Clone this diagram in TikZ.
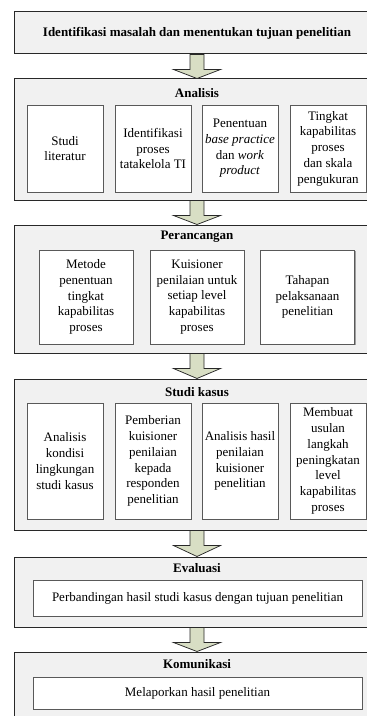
\documentclass[tikz,border=0pt]{standalone}
\usepackage{fontspec}
\setmainfont{Liberation Serif}
\usepackage{xcolor}
\usepackage{tikz}
\usetikzlibrary{calc,shadows}

\definecolor{stagegray}{RGB}{241,241,241}
\definecolor{arrowfill}{RGB}{216,222,196}
\definecolor{bordergray}{RGB}{40,40,40}

\tikzset{
    stagebox/.style={draw=bordergray, fill=stagegray, line width=0.8pt,
        minimum width=292pt, inner sep=0pt},
    stagetitle/.style={font=\bfseries, inner sep=0pt},
    taskbox/.style={draw=gray!70!black, fill=white, line width=0.7pt,
        align=center, inner sep=1pt,
        drop shadow={shadow xshift=0.9pt, shadow yshift=-0.9pt,
            fill=gray!75, opacity=1}},
    stagearrow/.style={draw=bordergray, fill=arrowfill, line width=0.6pt,
        line join=miter}
}

\newcommand{\stagearrow}[2]{%
    \filldraw[stagearrow] ($(#1.south)+(-7,0)$) -- ($(#1.south)+(-7,15)$)
        -- ($(#1.south)+(-23.5,15)$) -- (#2.north)
        -- ($(#1.south)+(23.5,15)$) -- ($(#1.south)+(7,15)$)
        -- ($(#1.south)+(7,0)$) -- cycle;}

\begin{document}
\fontsize{10.4}{12.6}\selectfont
\begin{tikzpicture}[x=0.8pt, y=-0.8pt, every node/.append style={font=\fontsize{10.4}{12.6}\selectfont}]
    \useasboundingbox (0,0) rectangle (367,716);
    \clip (0,0) rectangle (367,716);

    \node (ident) [stagebox, minimum height=33.6pt, font=\fontsize{10.4}{12.6}\selectfont\bfseries] at (197,33)
        {Identifikasi masalah dan menentukan tujuan penelitian};

    \node (analisis) [stagebox, minimum height=96.8pt] at (197,139.5) {};
    \node (analisisT) [stagetitle] at (197,93) {\bfseries Analisis};
    \node (an1) [taskbox, minimum width=60.8pt, minimum height=69.6pt] at (65,148.5)
        {Studi\\literatur};
    \node (an2) [taskbox, minimum width=60.8pt, minimum height=69.6pt] at (153,148.5)
        {Identifikasi\\proses\\tatakelola TI};
    \node (an3) [taskbox, minimum width=60.8pt, minimum height=69.6pt] at (240,148.5)
        {Penentuan\\\textit{base practice}\\dan \textit{work}\\\textit{product}};
    \node (an4) [taskbox, minimum width=60.8pt, minimum height=69.6pt] at (328,148.5)
        {Tingkat\\kapabilitas\\proses\\dan skala\\pengukuran};

    \node (perancangan) [stagebox, minimum height=102.4pt] at (197,289) {};
    \node (perancanganT) [stagetitle] at (197,237) {\bfseries Perancangan};
    \node (pr1) [taskbox, minimum width=75.2pt, minimum height=75.2pt] at (86,297)
        {Metode\\penentuan\\tingkat\\kapabilitas\\proses};
    \node (pr2) [taskbox, minimum width=75.2pt, minimum height=75.2pt] at (197,297)
        {Kuisioner\\penilaian untuk\\setiap level\\kapabilitas\\proses};
    \node (pr3) [taskbox, minimum width=75.2pt, minimum height=75.2pt] at (307.5,297)
        {Tahapan\\pelaksanaan\\penelitian};

    \node (studikasus) [stagebox, minimum height=120.8pt] at (197,454.5) {};
    \node (studikasusT) [stagetitle] at (197,392) {\bfseries Studi kasus};
    \node (sk1) [taskbox, minimum width=60.8pt, minimum height=92.8pt] at (65,461)
        {Analisis\\kondisi\\lingkungan\\studi kasus};
    \node (sk2) [taskbox, minimum width=60.8pt, minimum height=92.8pt] at (153,461)
        {Pemberian\\kuisioner\\penilaian\\kepada\\responden\\penelitian};
    \node (sk3) [taskbox, minimum width=60.8pt, minimum height=92.8pt] at (240,461)
        {Analisis hasil\\penilaian\\kuisioner\\penelitian};
    \node (sk4) [taskbox, minimum width=60.8pt, minimum height=92.8pt] at (328,461)
        {Membuat\\usulan\\langkah\\peningkatan\\level\\kapabilitas\\proses};

    \node (evaluasi) [stagebox, minimum height=56pt] at (197,592) {};
    \node (evaluasiT) [stagetitle] at (197,568) {\bfseries Evaluasi};
    \node (ev1) [taskbox, minimum width=263.2pt, minimum height=28.8pt] at (197.5,598)
        {Perbandingan hasil studi kasus dengan tujuan penelitian};

    \node (komunikasi) [stagebox, minimum height=56pt] at (197,687) {};
    \node (komunikasiT) [stagetitle] at (197,664) {\bfseries Komunikasi};
    \node (km1) [taskbox, minimum width=263.2pt, minimum height=25.6pt] at (197.5,693)
        {Melaporkan hasil penelitian};

    \stagearrow{ident}{analisis}
    \stagearrow{analisis}{perancangan}
    \stagearrow{perancangan}{studikasus}
    \stagearrow{studikasus}{evaluasi}
    \stagearrow{evaluasi}{komunikasi}
\end{tikzpicture}
\end{document}
